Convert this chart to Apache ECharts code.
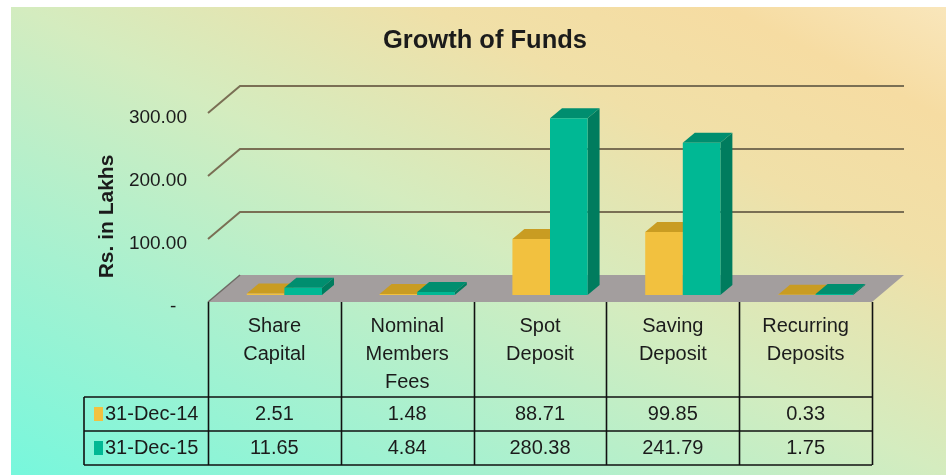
<!DOCTYPE html>
<html>
<head>
<meta charset="utf-8">
<script src="https://cdn.jsdelivr.net/npm/echarts@6/dist/echarts.min.js"></script>
<style>
  html, body { margin: 0; padding: 0; background: #ffffff; }
  #chart { width: 946px; height: 475px; }
</style>
</head>
<body>
<div id="chart"></div>
<script>
// Fund categories (header cells of the table) and the two year-end series
const categories = ['Share\nCapital', 'Nominal\nMembers\nFees', 'Spot\nDeposit', 'Saving\nDeposit', 'Recurring\nDeposits'];
const seriesNames = ['31-Dec-14', '31-Dec-15'];
const dec14 = [2.51, 1.48, 88.71, 99.85, 0.33];
const dec15 = [11.65, 4.84, 280.38, 241.79, 1.75];
const yTicks = [0, 100, 200, 300];

const FONT = '"Liberation Sans", Arial, Helvetica, sans-serif';
const TEXT = '#1b1b1b';

// pseudo-3D geometry
const DEPTH_X = 32, DEPTH_Y = 27;     // floor / back wall depth
const BAR_OFF_X = 8, BAR_OFF_Y = 7;   // bars stand slightly behind the floor's front edge
const BAR_DX = 12, BAR_DY = 10;       // bar thickness
const BAR_SHARE = 0.283;              // bar width as a share of the category band
const BAR_SHIFT = 2;

// data table under the plot
const TABLE_LEFT = 84;
const ROW_LINES = [397, 431, 465];
const ROW_TEXT_Y = [414, 448];

const PALETTE = [
  { front: '#f2c13f', top: '#c99c22', side: '#b38a18' },
  { front: '#00b894', top: '#008e6f', side: '#007c5e' }
];

const chart = echarts.init(document.getElementById('chart'), null, { renderer: 'canvas' });

function barSeries(values, s) {
  return {
    type: 'custom',
    name: seriesNames[s],
    z: 5,
    data: values.map((v, i) => [i, v]),
    renderItem(params, api) {
      const idx = api.value(0), v = api.value(1);
      const base = api.coord([idx, 0]);
      const top = api.coord([idx, v]);
      const bw = api.size([1, 0])[0] * BAR_SHARE;
      const x0 = base[0] + BAR_SHIFT - bw + s * bw + BAR_OFF_X;
      const x1 = x0 + bw;
      const yb = base[1] - BAR_OFF_Y;
      const yt = top[1] - BAR_OFF_Y;
      const c = PALETTE[s];
      return {
        type: 'group',
        children: [
          { type: 'polygon', shape: { points: [[x1, yt], [x1 + BAR_DX, yt - BAR_DY], [x1 + BAR_DX, yb - BAR_DY], [x1, yb]] }, style: { fill: c.side } },
          { type: 'polygon', shape: { points: [[x0, yt], [x1, yt], [x1 + BAR_DX, yt - BAR_DY], [x0 + BAR_DX, yt - BAR_DY]] }, style: { fill: c.top } },
          { type: 'rect', shape: { x: x0, y: yt, width: bw, height: yb - yt }, style: { fill: c.front } }
        ]
      };
    }
  };
}

function rowSeries(values, r) {
  return {
    type: 'custom',
    name: seriesNames[r] + ' table',
    z: 6,
    data: values.map((v, i) => [i, v]),
    renderItem(params, api) {
      const p = api.coord([api.value(0), 0]);
      return {
        type: 'text',
        style: {
          x: p[0], y: ROW_TEXT_Y[r],
          text: api.value(1).toFixed(2),
          fill: TEXT, font: '20px ' + FONT,
          align: 'center', verticalAlign: 'middle'
        }
      };
    }
  };
}

const option = {
  animation: false,
  backgroundColor: 'transparent',
  graphic: [
    {
      type: 'rect', z: -10, silent: true,
      shape: { x: 11, y: 7, width: 935, height: 468 },
      style: {
        fill: {
          type: 'linear', global: true,
          x: 290, y: 610, x2: 665, y2: -135,
          colorStops: [
            { offset: 0, color: '#78f7dc' },
            { offset: 0.25, color: '#a6f1d0' },
            { offset: 0.5, color: '#d4ecbf' },
            { offset: 0.72, color: '#f0e0a8' },
            { offset: 0.88, color: '#f6dca2' },
            { offset: 1, color: '#f9e6bb' }
          ]
        }
      }
    }
  ],
  title: {
    text: 'Growth of Funds',
    left: 378, top: 23,
    textStyle: { fontFamily: FONT, fontSize: 25.5, fontWeight: 'bold', color: TEXT }
  },
  grid: { left: 208, right: 74, top: 113, bottom: 173, containLabel: false },
  xAxis: {
    type: 'category',
    data: categories,
    axisLine: { show: false },
    axisTick: { show: false },
    splitLine: { show: false },
    axisLabel: { margin: 10, fontFamily: FONT, fontSize: 20, lineHeight: 28, color: TEXT, interval: 0 }
  },
  yAxis: {
    type: 'value',
    min: 0, max: 300, interval: 100,
    axisLine: { show: false },
    axisTick: { show: false },
    splitLine: { show: false },
    axisLabel: {
      margin: 21, fontFamily: FONT, fontSize: 19, color: TEXT,
      verticalAlign: 'top', lineHeight: 10,
      formatter: v => (v === 0 ? '-  ' : v.toFixed(2))
    },
    name: 'Rs. in Lakhs',
    nameLocation: 'middle',
    nameGap: 81,
    nameRotate: 90,
    nameTextStyle: { fontFamily: FONT, fontSize: 21, fontWeight: 'bold', color: TEXT, padding: [0, 18, 0, 0] }
  },
  series: [
    // floor
    {
      type: 'custom', z: 1, silent: true,
      data: [[0, 0]],
      renderItem(params, api) {
        const cs = params.coordSys;
        const y = api.coord([0, 0])[1];
        const l = cs.x, r = cs.x + cs.width;
        return {
          type: 'group',
          children: [
            { type: 'polygon', shape: { points: [[l, y], [r, y], [r + DEPTH_X, y - DEPTH_Y], [l + DEPTH_X, y - DEPTH_Y]] }, style: { fill: '#a39e9e' } },
            { type: 'polyline', shape: { points: [[l, y], [l + DEPTH_X, y - DEPTH_Y]] }, style: { stroke: '#6f6b66', lineWidth: 1.5 } }
          ]
        };
      }
    },
    // back wall gridlines with their diagonal returns
    {
      type: 'custom', z: 2, silent: true,
      data: yTicks.filter(v => v > 0).map(v => [0, v]),
      renderItem(params, api) {
        const cs = params.coordSys;
        const y = api.coord([0, api.value(1)])[1];
        const l = cs.x, r = cs.x + cs.width;
        return {
          type: 'polyline',
          shape: { points: [[l, y], [l + DEPTH_X, y - DEPTH_Y], [r + DEPTH_X, y - DEPTH_Y]] },
          style: { stroke: '#7a6f54', lineWidth: 2, fill: null }
        };
      }
    },
    barSeries(dec14, 0),
    barSeries(dec15, 1),
    // table frame, row headers and legend keys
    {
      type: 'custom', z: 6, silent: true,
      data: [[0, 0]],
      renderItem(params, api) {
        const cs = params.coordSys;
        const yTop = api.coord([0, 0])[1];
        const band = api.size([1, 0])[0];
        const r = cs.x + cs.width;
        const stroke = { stroke: '#111111', lineWidth: 1.6 };
        const kids = [];
        for (let k = 0; k <= categories.length; k++) {
          const x = Math.round(cs.x + k * band) + 0.5;
          kids.push({ type: 'line', shape: { x1: x, y1: yTop, x2: x, y2: ROW_LINES[2] }, style: stroke });
        }
        ROW_LINES.forEach(y => kids.push({ type: 'line', shape: { x1: TABLE_LEFT, y1: y, x2: r, y2: y }, style: stroke }));
        kids.push({ type: 'line', shape: { x1: TABLE_LEFT, y1: ROW_LINES[0], x2: TABLE_LEFT, y2: ROW_LINES[2] }, style: stroke });
        seriesNames.forEach((name, s) => {
          const cy = ROW_TEXT_Y[s];
          kids.push({ type: 'rect', shape: { x: TABLE_LEFT + 10, y: cy - 7, width: 9, height: 14 }, style: { fill: PALETTE[s].front } });
          kids.push({ type: 'text', style: { x: TABLE_LEFT + 21, y: cy, text: name, fill: TEXT, font: '20px ' + FONT, align: 'left', verticalAlign: 'middle' } });
        });
        return { type: 'group', children: kids };
      }
    },
    rowSeries(dec14, 0),
    rowSeries(dec15, 1)
  ]
};

chart.setOption(option);
</script>
</body>
</html>
